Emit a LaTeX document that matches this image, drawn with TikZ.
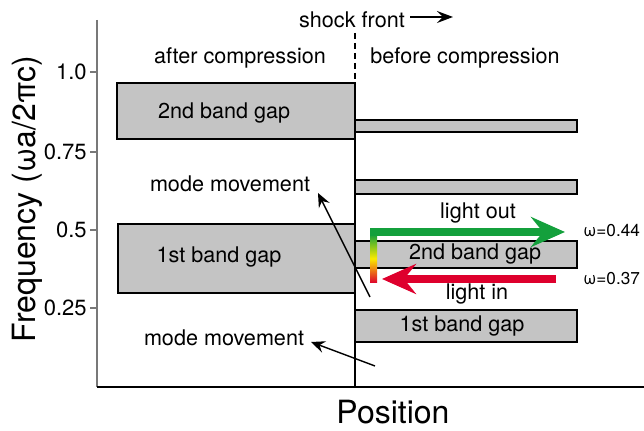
\documentclass[tikz,border=0pt]{standalone}
\usepackage{fontspec}
\setmainfont{TeX Gyre Heros}
\usetikzlibrary{arrows.meta}
\definecolor{gapgray}{RGB}{196,196,196}
\definecolor{axisgray}{RGB}{120,120,120}
\definecolor{outgreen}{RGB}{20,160,60}
\definecolor{inred}{RGB}{222,0,45}
\definecolor{midyellow}{RGB}{250,235,0}

\begin{document}
\begin{tikzpicture}[x=0.5pt,y=-0.5pt,font=\fontsize{10.8}{13}\selectfont,
  gapbox/.style={draw,fill=gapgray,line width=0.75pt},
  movearrow/.style={-{Stealth[length=7pt,width=6pt,inset=2.5pt]},line width=0.7pt},
  lightarrow/.style={line width=3.6pt,-{Stealth[length=17pt,width=15pt,inset=6pt]}},
  bigtext/.style={font=\fontsize{16}{19}\selectfont},
  omegatext/.style={anchor=west,inner sep=0pt,font=\fontsize{8.6}{10}\selectfont}]
\useasboundingbox (0,0) rectangle (644,431);

\draw[axisgray,line width=0.75pt] (97,20) -- (97,387);
\foreach \f/\y/\n in {1.0/72/a,0.75/152/b,0.5/230/c,0.25/308/d} {
  \draw[axisgray,line width=0.75pt] (90,\y) -- (97,\y);
  \node[anchor=east,inner sep=0pt,font=\fontsize{11}{13}\selectfont] (tick\n) at (87,\y) {\f};
}

\begin{scope}[gapbox]
\filldraw (117,83) rectangle (355,139);
\filldraw (118,224) rectangle (355,293);
\filldraw (355,120) rectangle (577,132);
\filldraw (355,180) rectangle (577,194);
\filldraw (355,241) rectangle (577,268);
\filldraw (355,310) rectangle (577,342);
\end{scope}

\draw[line width=0.75pt,dash pattern=on 3pt off 2pt] (355,33) -- (355,83);
\draw[line width=0.75pt] (355,83) -- (355,387);
\draw[line width=0.75pt] (97,387) -- (644,387);

\node (shock) at (352,20) {shock front};
\coordinate (shockfrom) at (410,17);
\coordinate (shockto) at (453,17);
\draw[line width=0.75pt,-{Stealth[length=8pt,width=6pt,inset=3pt]}] (shockfrom) -- (shockto);

\node (after) at (240,58) {after compression};
\node (before) at (465,58) {before compression};
\node (gap2left) at (224,113) {2nd band gap};
\node (gap1left) at (219,257) {1st band gap};
\node (gap2right) at (475,254) {2nd band gap};
\node (gap1right) at (462,326) {1st band gap};
\node (modeup) at (230,184) {mode movement};
\node (modedown) at (224,338) {mode movement};

\coordinate (upfrom) at (370,297);
\coordinate (upto) at (318,193);
\coordinate (downfrom) at (375,366);
\coordinate (downto) at (311,342);
\draw[movearrow] (upfrom) -- (upto);
\draw[movearrow] (downfrom) -- (downto);

\shade[top color=outgreen,bottom color=inred,middle color=midyellow] (370,234) rectangle (377,283);
\coordinate (outfrom) at (370,232);
\coordinate (outto) at (565,232);
\coordinate (infrom) at (556,279);
\coordinate (into) at (382,279);
\draw[outgreen,lightarrow] (outfrom) -- (outto);
\draw[inred,lightarrow] (infrom) -- (into);

\node (lightout) at (478,213) {light out};
\node (lightin) at (477,294) {light in};
\node[omegatext] (omegaout) at (583,231) {ω=0.44};
\node[omegatext] (omegain) at (583,279) {ω=0.37};

\node[bigtext,rotate=90] (freq) at (27,199) {Frequency (ωa/2πc)};
\node[bigtext] (pos) at (393,412) {Position};
\end{tikzpicture}
\end{document}
